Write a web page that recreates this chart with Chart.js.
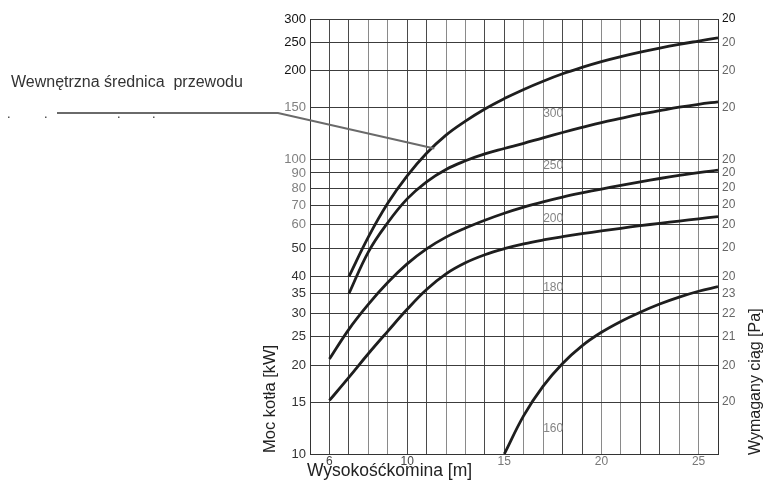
<!DOCTYPE html>
<html>
<head>
<meta charset="utf-8">
<script src="https://cdn.jsdelivr.net/npm/chart.js@4.4.1/dist/chart.umd.min.js"></script>
<style>
  html, body { margin: 0; padding: 0; background: #fff; }
  #wrap { position: relative; width: 765px; height: 485px; }
</style>
</head>
<body>
<div id="wrap"><canvas id="chart"></canvas></div>
<script>
// tick values (left axis, log) and the labels shown on the right axis
var powerTicks = [300, 250, 200, 150, 100, 90, 80, 70, 60, 50, 40, 35, 30, 25, 20, 15, 10];
var draughtLabels = ['20', '20', '20', '20', '20', '20', '20', '20', '20', '20', '20', '23', '22', '21', '20', '20', ''];
var heightLabels = [6, 10, 15, 20, 25];

// chimney diameters and their curves (height [m] -> boiler power [kW])
var diameters = ['300', '250', '200', '180', '160'];

var h300 = [7, 8, 9, 10, 11, 12, 13, 14, 15, 16, 17, 18, 19, 20, 21, 22, 23, 24, 25, 26];
var p300 = [40, 54.5, 71, 88, 105, 121, 135, 148.5, 161, 173, 184.5, 195.5, 205.5, 215, 223.5, 231.5, 239, 246, 252.5, 259];

var h250 = [7, 8, 9, 10, 11, 12, 13, 14, 15, 16, 17, 18, 19, 20, 21, 22, 23, 24, 25, 26];
var p250 = [35, 48.5, 61, 73.5, 84, 92.5, 99, 104.5, 109, 113.5, 118.5, 123.5, 128.5, 133.5, 138, 142.5, 146.5, 150.5, 154, 157];

var h200 = [6, 7, 8, 9, 10, 11, 12, 13, 14, 15, 16, 17, 18, 19, 20, 21, 22, 23, 24, 25, 26];
var p200 = [21, 26.5, 32.2, 38.2, 44.2, 49.7, 54.5, 58.5, 62.2, 65.7, 68.9, 71.8, 74.5, 77, 79.4, 81.7, 84, 86.2, 88.3, 90.3, 92];

var h180 = [6, 7, 8, 9, 10, 11, 12, 13, 14, 15, 16, 17, 18, 19, 20, 21, 22, 23, 24, 25, 26];
var p180 = [15.2, 18.2, 21.9, 26.1, 31, 36.2, 40.9, 44.6, 47.5, 49.8, 51.7, 53.3, 54.7, 56, 57.2, 58.4, 59.6, 60.7, 61.8, 62.9, 64];

var h160 = [15, 16, 17, 18, 19, 20, 21, 22, 23, 24, 25, 26];
var p160 = [10, 13.5, 17, 20.3, 23.3, 25.9, 28.2, 30.3, 32.3, 34.1, 35.7, 37];

// where the diameter labels sit (height, power)
var labelHeight = 17;
var labelPower = [143, 95, 63, 36.6, 12.2];

var FONT = '"Liberation Sans", Arial, sans-serif';

function pts(xs, ys) {
    return xs.map(function (x, i) { return { x: x, y: ys[i] }; });
}

var curves = [pts(h300, p300), pts(h250, p250), pts(h200, p200), pts(h180, p180), pts(h160, p160)];

var leftTickColor = function (ctx) {
    var v = ctx.tick.value;
    if (v >= 200) return '#111';
    if (v >= 60) return '#808080';
    return '#333';
};

var textPlugin = {
    id: 'texts',
    afterDraw: function (chart) {
        var c = chart.ctx;
        var xs = chart.scales.x, ys = chart.scales.y;
        c.save();

        // diameter labels inside the grid
        c.font = '12px ' + FONT;
        c.fillStyle = '#858585';
        c.textAlign = 'left';
        c.textBaseline = 'middle';
        diameters.forEach(function (d, i) {
            c.fillText(d, xs.getPixelForValue(labelHeight), ys.getPixelForValue(labelPower[i]));
        });

        // caption and leader line
        c.font = '16px ' + FONT;
        c.fillStyle = '#333';
        c.textBaseline = 'alphabetic';
        c.fillText('Wewnętrzna średnica  przewodu', 11, 87);

        c.strokeStyle = '#6a6a6a';
        c.lineWidth = 2;
        c.beginPath();
        c.moveTo(57, 113);
        c.lineTo(278, 113);
        c.lineTo(xs.getPixelForValue(11.4), ys.getPixelForValue(109));
        c.stroke();

        c.fillStyle = '#555';
        [8, 45, 118, 153].forEach(function (x) { c.fillRect(x, 116.5, 1.5, 1.5); });

        // axis titles
        c.fillStyle = '#222';
        c.font = '17.5px ' + FONT;
        c.fillText('Wysokośćkomina [m]', 307, 476);

        c.font = '16.5px ' + FONT;
        c.translate(275, 453);
        c.rotate(-Math.PI / 2);
        c.fillText('Moc kotła [kW]', 0, 0);
        c.restore();

        c.save();
        c.fillStyle = '#222';
        c.font = '16px ' + FONT;
        c.translate(760, 455);
        c.rotate(-Math.PI / 2);
        c.fillText('Wymagany ciąg [Pa]', 0, 0);
        c.restore();
    }
};

var config = {
    type: 'line',
    data: {
        datasets: curves.map(function (data, i) {
            return {
                label: diameters[i],
                data: data,
                borderColor: '#1e1e1e',
                borderWidth: 2.8,
                pointRadius: 0,
                fill: false,
                tension: 0.4
            };
        })
    },
    options: {
        responsive: true,
        maintainAspectRatio: false,
        animation: false,
        layout: { padding: { left: 0, top: 19, right: 0, bottom: 0 } },
        plugins: { legend: { display: false }, tooltip: { enabled: false } },
        scales: {
            x: {
                type: 'linear',
                min: 5,
                max: 26,
                afterFit: function (scale) { scale.height = 31; },
                afterBuildTicks: function (scale) {
                    var t = [];
                    for (var v = 5; v <= 26; v++) t.push({ value: v });
                    scale.ticks = t;
                },
                grid: {
                    drawTicks: false,
                    lineWidth: 1,
                    color: function (ctx) {
                        var v = ctx.tick ? ctx.tick.value : 0;
                        if (v === 5 || v === 26) return '#333';
                        return (v % 4 === 2 || v % 4 === 3) ? '#4a4a4a' : '#8a8a8a';
                    }
                },
                border: { display: true, color: '#333' },
                ticks: {
                    autoSkip: false,
                    maxRotation: 0,
                    padding: 0,
                    font: { family: FONT, size: 12 },
                    color: function (ctx) { return ctx.tick.value <= 10 ? '#444' : '#777'; },
                    callback: function (v) { return heightLabels.indexOf(v) >= 0 ? String(v) : ''; }
                }
            },
            y: {
                type: 'logarithmic',
                position: 'left',
                min: 10,
                max: 300,
                afterFit: function (scale) { scale.width = 310; },
                afterBuildTicks: function (scale) {
                    scale.ticks = powerTicks.map(function (v) { return { value: v }; });
                },
                grid: { drawTicks: false, color: '#3c3c3c', lineWidth: 1 },
                border: { display: true, color: '#333' },
                ticks: {
                    autoSkip: false,
                    padding: 4,
                    font: { family: FONT, size: 13 },
                    color: leftTickColor,
                    callback: function (v) { return String(v); }
                }
            },
            y2: {
                type: 'logarithmic',
                position: 'right',
                min: 10,
                max: 300,
                afterFit: function (scale) { scale.width = 765 - 718; },
                afterBuildTicks: function (scale) {
                    scale.ticks = powerTicks.map(function (v) { return { value: v }; });
                },
                grid: { display: false, drawTicks: false },
                border: { display: true, color: '#333' },
                ticks: {
                    autoSkip: false,
                    padding: 4,
                    font: { family: FONT, size: 12 },
                    color: function (ctx) { return ctx.index === 0 ? '#111' : '#666'; },
                    callback: function (v, i) { return draughtLabels[i]; }
                }
            }
        }
    },
    plugins: [textPlugin]
};

var ctx = document.getElementById('chart').getContext('2d');
window.myChart = new Chart(ctx, config);
</script>
</body>
</html>
